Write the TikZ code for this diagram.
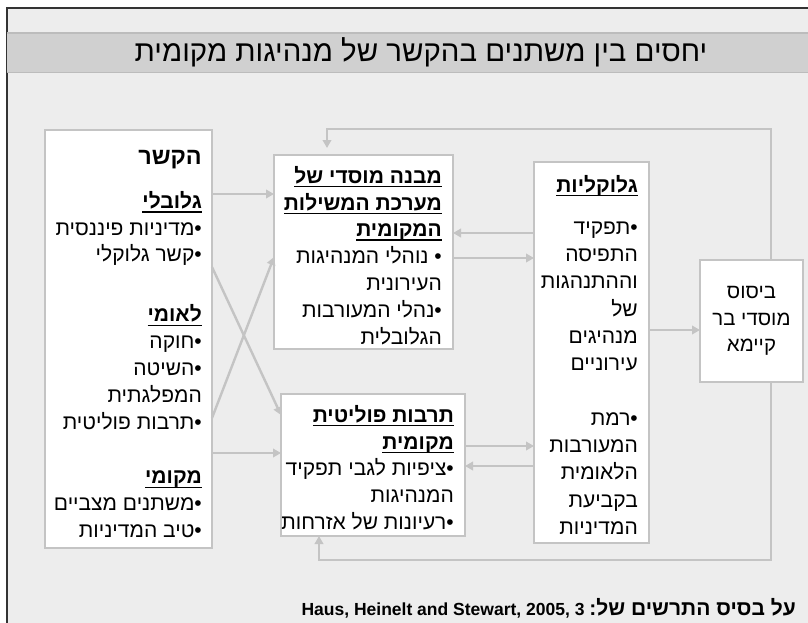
\documentclass[tikz,border=0pt]{standalone}
\usepackage{fontspec}
\setmainfont{Liberation Sans}
\newfontfamily\hebfont[Script=Hebrew, Scale=1.2]{Liberation Sans}
\TeXXeTstate=1
\usetikzlibrary{arrows.meta,positioning,calc}

\definecolor{bgcol}{HTML}{EDEDED}
\definecolor{bandcol}{HTML}{D0D0D0}
\definecolor{bandedge}{HTML}{BCBCBC}
\definecolor{boxline}{HTML}{C4C4C4}

\newcommand\heb[1]{{\hebfont\beginR #1\endR}}
\newcommand\bul{\hbox{•}}
\newcommand\topstrut{\vrule height 14pt width 0pt}
\newcommand\hul[1]{\setbox0\hbox{\hebfont\bfseries\beginR #1\endR}\rlap{\vrule width\wd0 height -2.6pt depth 4.2pt}\box0}

\tikzset{
  box/.style={draw=boxline, line width=2.4pt, fill=white, inner sep=0pt, outer sep=0pt},
  txt/.style={inner sep=0pt, align=right, font=\hebfont\fontsize{17.5}{26.8}\selectfont},
  flow/.style={draw=boxline, line width=2.4pt, -{Triangle[length=8pt,width=8.5pt]}},
}

\begin{document}
\begin{tikzpicture}[x=1pt,y=-1pt]
\useasboundingbox (0,0) rectangle (808,622);
\fill[white] (0,0) rectangle (808,622);
\fill[bgcol] (7,8) rectangle (812,626);
\draw[black!80, line width=1.8pt] (7,626) -- (7,8) -- (812,8);

% title band
\fill[bandcol] (7,32) rectangle (812,72);
\draw[bandedge, line width=2.5pt] (7,33) -- (812,33);
\draw[bandedge, line width=1pt] (7,72) -- (812,72);
\node[font=\hebfont\fontsize{24.5}{30}\selectfont] (title) at (421,52) {\beginR יחסים בין משתנים בהקשר של מנהיגות מקומית\endR};

% boxes
\node[box, minimum width=167pt, minimum height=418pt] (ctx) at (128.5,339) {};
\node[box, minimum width=179pt, minimum height=194pt] (inst) at (363.5,252) {};
\node[box, minimum width=184pt, minimum height=142pt] (cult) at (373,465) {};
\node[box, minimum width=115pt, minimum height=381pt] (glocal) at (591.5,352.5) {};
\node[box, minimum width=103pt, minimum height=122pt, align=center, font=\hebfont\fontsize{17}{26.5}\selectfont] (sust) at (751.5,321) {\heb{ביסוס}\\\heb{מוסדי בר}\\\heb{קיימא}};

% box texts
\node[txt, below left=20pt and 10pt of ctx.north east] (ctxtxt) {%
{\fontsize{19.5}{26.8}\selectfont\bfseries\topstrut\beginR הקשר\endR}\\[17.2pt]
\hul{גלובלי}\\
\heb{\bul מדיניות פיננסית}\\
\heb{\bul קשר גלוקלי}\\[33.2pt]
\hul{לאומי}\\
\heb{\bul חוקה}\\
\heb{\bul השיטה}\\
\heb{המפלגתית}\\
\heb{\bul תרבות פוליטית}\\[28pt]
\hul{מקומי}\\
\heb{\bul משתנים מצביים}\\
\heb{\bul טיב המדיניות}};

\node[txt, below left=11pt and 11pt of inst.north east] (insttxt) {%
\topstrut\hul{מבנה מוסדי של}\\
\hul{מערכת המשילות}\\
\hul{המקומית}\\
\heb{\bul\ נוהלי המנהיגות}\\
\heb{העירונית}\\
\heb{\bul נהלי המעורבות}\\
\heb{הגלובלית}};

\node[txt, below left=11pt and 11pt of cult.north east] (culttxt) {%
\topstrut\hul{תרבות פוליטית}\\
\hul{מקומית}\\
\heb{\bul ציפיות לגבי תפקיד}\\
\heb{המנהיגות}\\
\heb{\bul רעיונות של אזרחות}};

\node[txt, font=\hebfont\fontsize{17.5}{27.3}\selectfont, below left=13pt and 11pt of glocal.north east] (glocaltxt) {%
\topstrut\hul{גלוקליות}\\[14.7pt]
\heb{\bul תפקיד}\\
\heb{התפיסה}\\
\heb{וההתנהגות}\\
\heb{של}\\
\heb{מנהיגים}\\
\heb{עירוניים}\\
\mbox{}\\
\heb{\bul רמת}\\
\heb{המעורבות}\\
\heb{הלאומית}\\
\heb{בקביעת}\\
\heb{המדיניות}};

% arrows
\draw[flow] (ctx.east |- 0,194) -- (inst.west |- 0,194);
\draw[flow] (ctx.east |- 0,453) -- (cult.west |- 0,453);
\draw[flow] (ctx.east |- 0,267) -- (cult.west |- 0,415);
\draw[flow] (ctx.east |- 0,418) -- (inst.west |- 0,257);
\draw[flow] (inst.east |- 0,258) -- (glocal.west |- 0,258);
\draw[flow] (glocal.west |- 0,233) -- (inst.east |- 0,233);
\draw[flow] (cult.east |- 0,446) -- (glocal.west |- 0,446);
\draw[flow] (glocal.west |- 0,466) -- (cult.east |- 0,466);
\draw[flow] (glocal.east |- 0,330) -- (sust.west |- 0,330);
\draw[flow, shorten >=7pt] (sust.north -| 771,0) |- (327,129) -- (inst.north -| 327,0);
\draw[flow] (sust.south -| 771,0) |- (319,560) -- (cult.south -| 319,0);

% source
\node[anchor=base west, font=\bfseries\fontsize{17.5}{20}\selectfont] (src) at (298,615) {\beginR{\hebfont\fontsize{17.5}{20}\selectfont על בסיס התרשים של\hbox{:}} \beginL Haus, Heinelt and Stewart, 2005, 3\endL\endR};
\end{tikzpicture}
\end{document}
